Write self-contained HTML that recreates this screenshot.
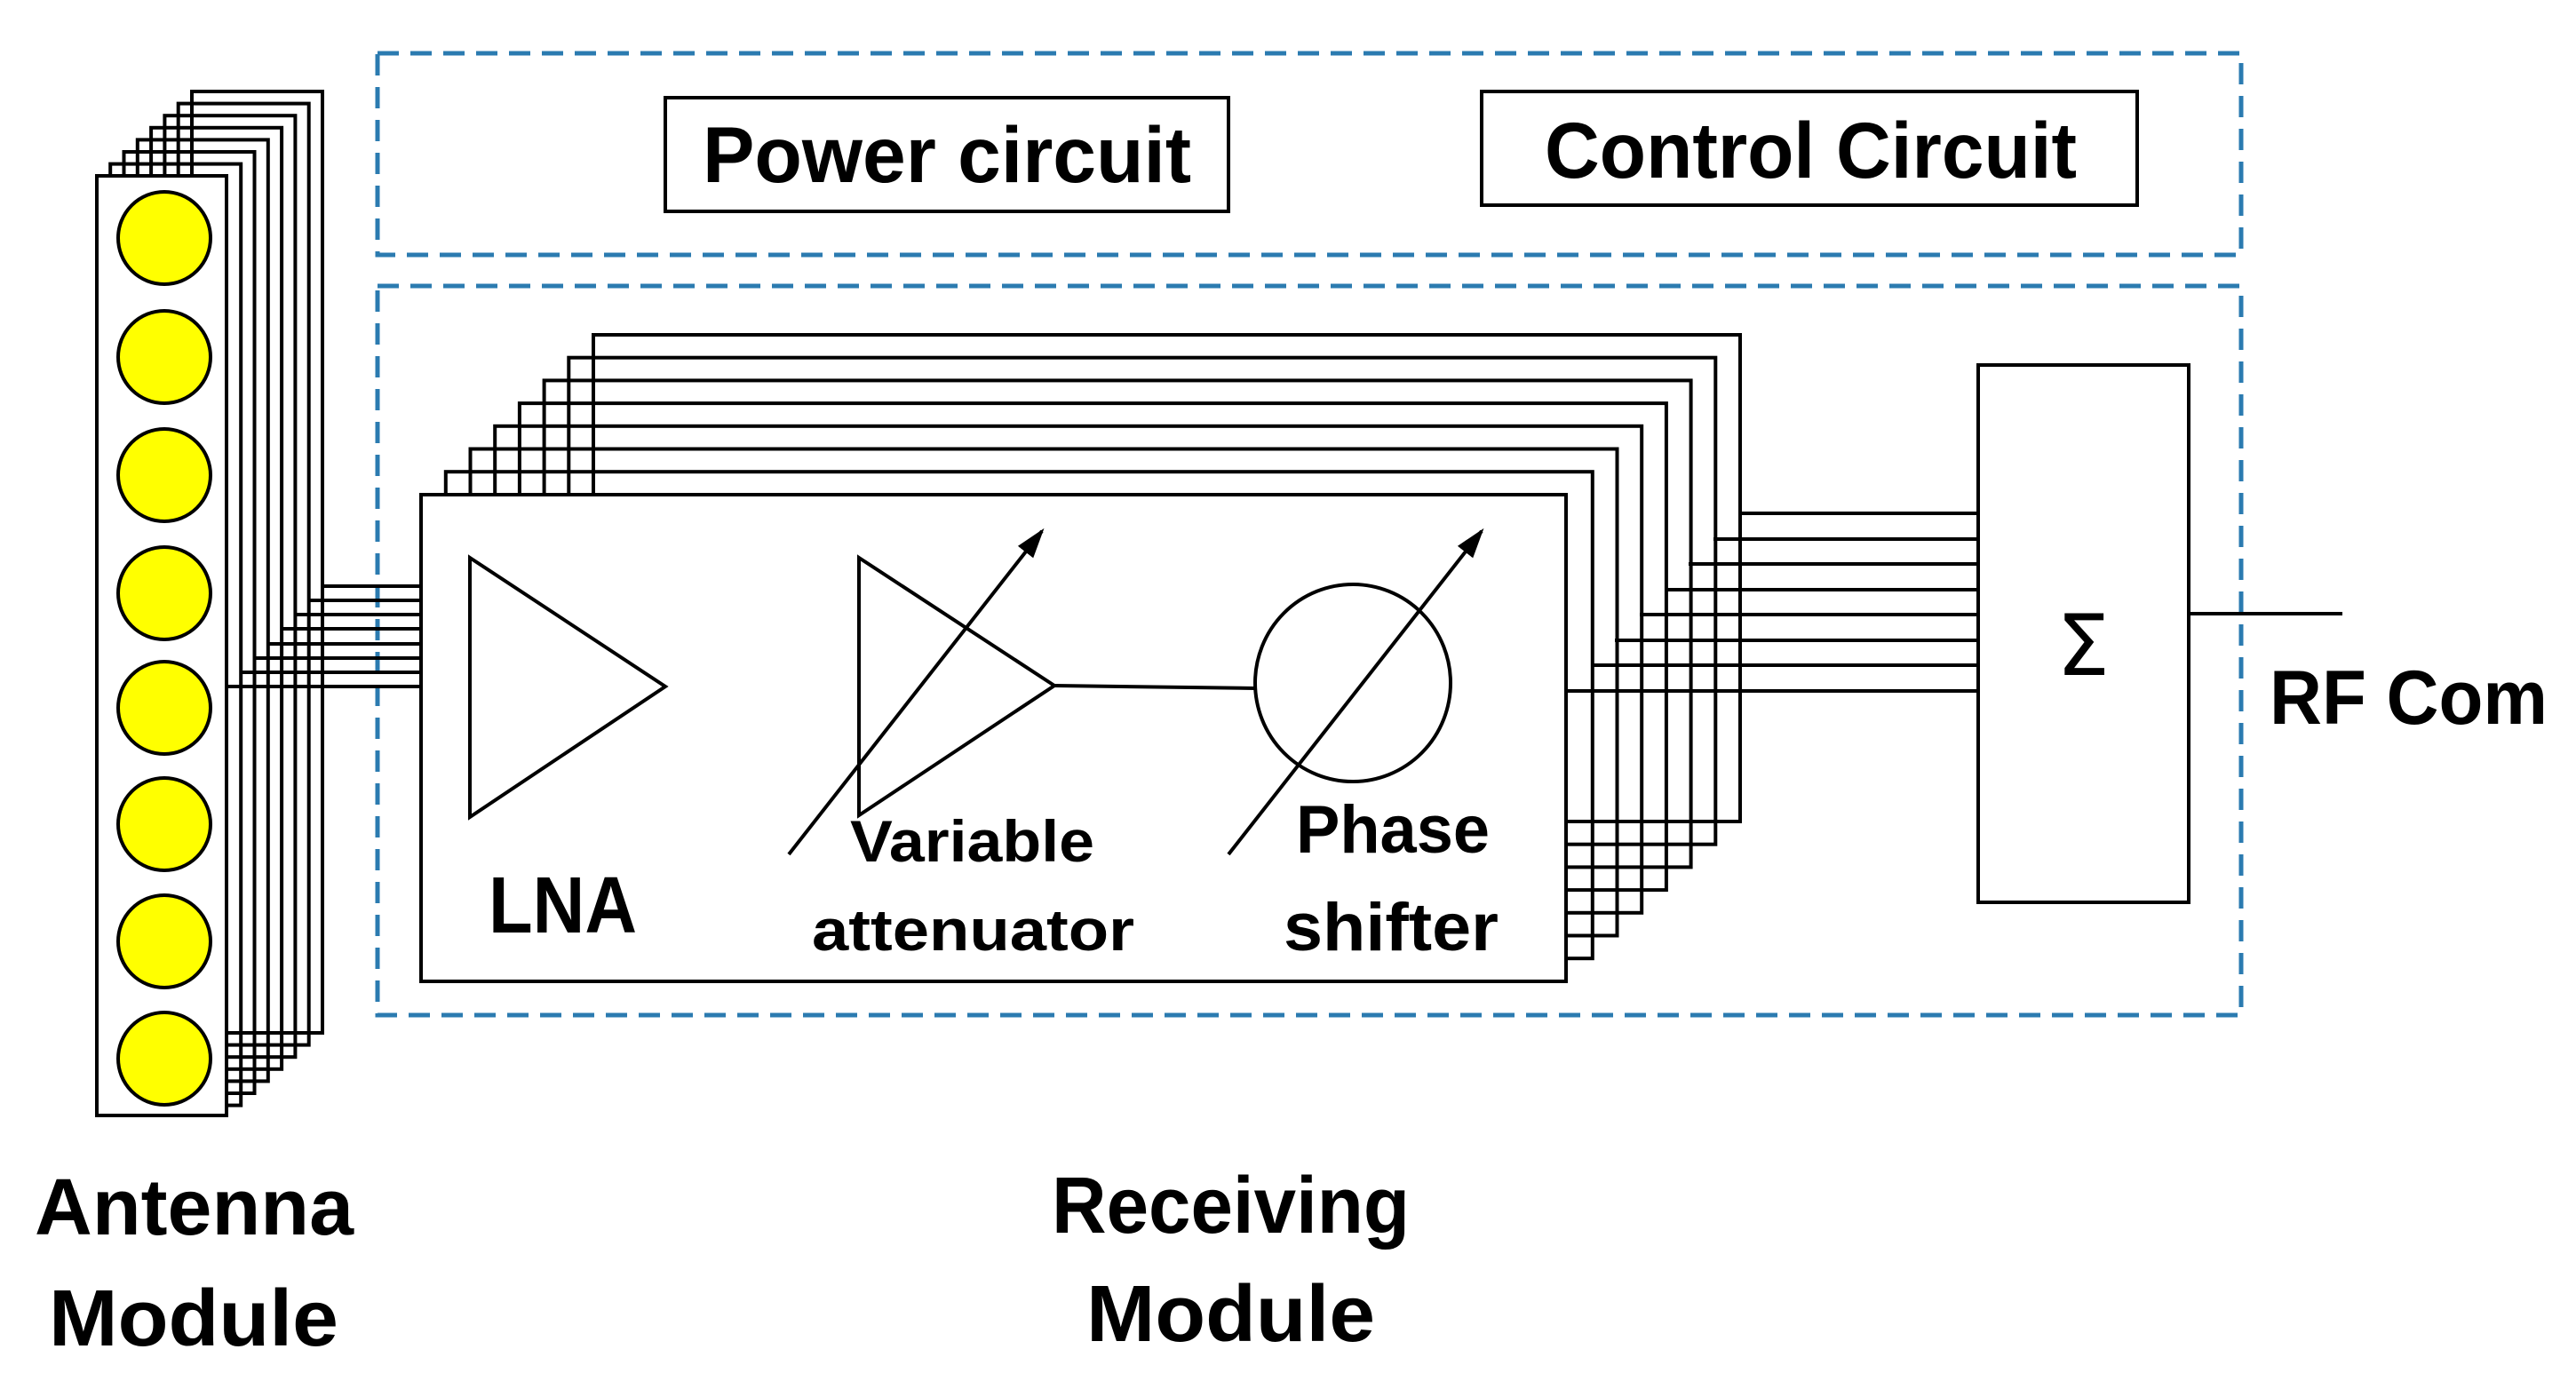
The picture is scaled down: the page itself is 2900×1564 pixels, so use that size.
<!DOCTYPE html>
<html><head><meta charset="utf-8"><style>html,body{margin:0;padding:0;background:#fff}svg{display:block}</style></head>
<body>
<svg width="2900" height="1564" viewBox="0 0 2900 1564" xmlns="http://www.w3.org/2000/svg" font-family="'Liberation Sans', sans-serif" font-weight="bold">
<defs>
<marker id="a2" markerWidth="34" markerHeight="30" refX="30" refY="15" orient="auto" markerUnits="userSpaceOnUse"><path d="M0,4 L34,15 L0,26 z" fill="#000"/></marker></defs>
<g fill="none" stroke="#2b7bb0" stroke-width="5" stroke-dasharray="24 13">
<rect x="425" y="60" width="2098" height="227"/>
<rect x="425" y="322" width="2098" height="821"/>
</g>
<g stroke="#000" stroke-width="4" fill="none">
<rect x="749" y="110" width="634" height="128" fill="#fff"/>
<rect x="1668" y="103" width="738" height="128" fill="#fff"/>
<rect x="216" y="103" width="147" height="1060"/>
<rect x="200.7" y="116.6" width="147" height="1060"/>
<rect x="185.4" y="130.2" width="147" height="1060"/>
<rect x="170.1" y="143.8" width="147" height="1060"/>
<rect x="154.8" y="157.4" width="147" height="1060"/>
<rect x="139.5" y="171" width="147" height="1060"/>
<rect x="124.2" y="184.6" width="147" height="1060"/>
<rect x="109" y="198" width="146" height="1058" fill="#fff"/>
<line x1="255" y1="773" x2="474" y2="773"/>
<line x1="270" y1="757" x2="474" y2="757"/>
<line x1="286" y1="741" x2="474" y2="741"/>
<line x1="301" y1="725" x2="474" y2="725"/>
<line x1="317" y1="708" x2="474" y2="708"/>
<line x1="332" y1="692" x2="474" y2="692"/>
<line x1="348" y1="676" x2="474" y2="676"/>
<line x1="363" y1="660" x2="474" y2="660"/>
<rect x="668" y="377" width="1291" height="548"/>
<rect x="640.3" y="402.7" width="1291" height="548"/>
<rect x="612.6" y="428.4" width="1291" height="548"/>
<rect x="584.9" y="454.1" width="1291" height="548"/>
<rect x="557.2" y="479.8" width="1291" height="548"/>
<rect x="529.5" y="505.5" width="1291" height="548"/>
<rect x="501.8" y="531.2" width="1291" height="548"/>
<rect x="474" y="557" width="1289" height="548" fill="#fff"/>
<line x1="1763" y1="778" x2="2227" y2="778"/>
<line x1="1791" y1="749" x2="2227" y2="749"/>
<line x1="1818" y1="721" x2="2227" y2="721"/>
<line x1="1846" y1="692" x2="2227" y2="692"/>
<line x1="1874" y1="664" x2="2227" y2="664"/>
<line x1="1901" y1="635" x2="2227" y2="635"/>
<line x1="1929" y1="607" x2="2227" y2="607"/>
<line x1="1959" y1="578" x2="2227" y2="578"/>
<rect x="2227" y="411" width="237" height="605" fill="#fff"/>
<line x1="2464" y1="691" x2="2637" y2="691"/>
<polygon points="529,628 749,773 529,920"/>
<polygon points="967,628 1187,772 967,918"/>
<line x1="1187" y1="772" x2="1413" y2="775"/>
<ellipse cx="1523" cy="769" rx="110" ry="111"/>
<line x1="888" y1="962" x2="1173" y2="598" marker-end="url(#a2)"/>
<line x1="1383" y1="962" x2="1668" y2="598" marker-end="url(#a2)"/>
</g>
<g fill="#ffff00" stroke="#000" stroke-width="4">
<circle cx="185" cy="268" r="52"/><circle cx="185" cy="402" r="52"/><circle cx="185" cy="535" r="52"/><circle cx="185" cy="668" r="52"/>
<circle cx="185" cy="797" r="52"/><circle cx="185" cy="928" r="52"/><circle cx="185" cy="1060" r="52"/><circle cx="185" cy="1192" r="52"/>
</g>
<g fill="#000">
<text x="791" y="205" font-size="89" textLength="550" lengthAdjust="spacingAndGlyphs">Power circuit</text>
<text x="1739" y="200" font-size="89" textLength="599" lengthAdjust="spacingAndGlyphs">Control Circuit</text>
<text x="550" y="1050" font-size="90" textLength="167" lengthAdjust="spacingAndGlyphs">LNA</text>
<text x="957" y="970" font-size="66" textLength="275" lengthAdjust="spacingAndGlyphs">Variable</text>
<text x="914" y="1070" font-size="66" textLength="363" lengthAdjust="spacingAndGlyphs">attenuator</text>
<text x="1459" y="960" font-size="76" textLength="218" lengthAdjust="spacingAndGlyphs">Phase</text>
<text x="1445" y="1070" font-size="76" textLength="242" lengthAdjust="spacingAndGlyphs">shifter</text>
<text x="2345" y="760" font-size="95" font-weight="normal" text-anchor="middle" font-family="'DejaVu Sans', sans-serif">Σ</text>
<text x="2555" y="815" font-size="86" textLength="313" lengthAdjust="spacingAndGlyphs">RF Com</text>
<text x="39" y="1390" font-size="90" textLength="359" lengthAdjust="spacingAndGlyphs">Antenna</text>
<text x="55" y="1515" font-size="90" textLength="326" lengthAdjust="spacingAndGlyphs">Module</text>
<text x="1184" y="1388" font-size="90" textLength="403" lengthAdjust="spacingAndGlyphs">Receiving</text>
<text x="1223" y="1510" font-size="90" textLength="325" lengthAdjust="spacingAndGlyphs">Module</text>
</g>
</svg>
</body></html>
